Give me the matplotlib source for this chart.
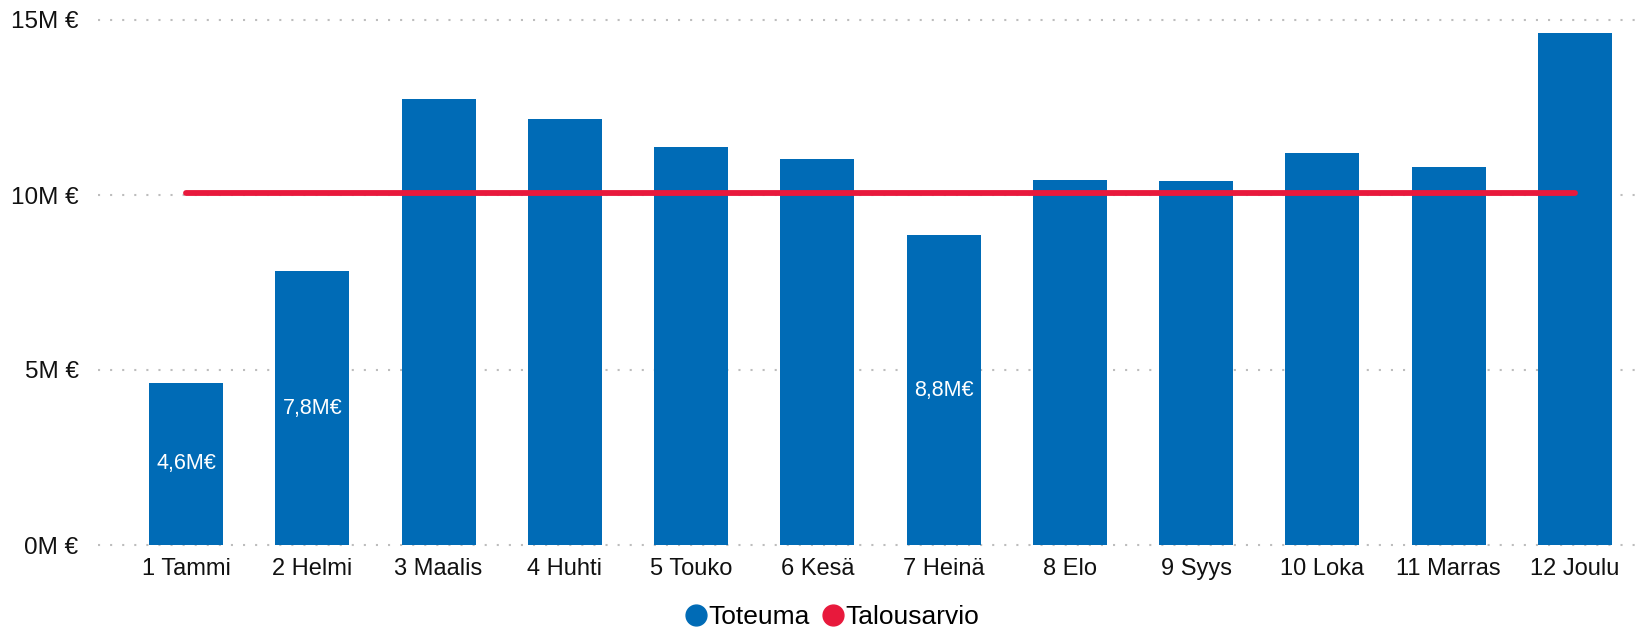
import matplotlib
matplotlib.use("Agg")
import matplotlib.pyplot as plt
from matplotlib.lines import Line2D

plt.rcParams["font.family"] = ["Liberation Sans", "DejaVu Sans"]

months = ["1 Tammi", "2 Helmi", "3 Maalis", "4 Huhti", "5 Touko", "6 Kesä",
          "7 Heinä", "8 Elo", "9 Syys", "10 Loka", "11 Marras", "12 Joulu"]
toteuma = [4.64, 7.82, 12.75, 12.18, 11.37, 11.04, 8.85, 10.44, 10.41, 11.19, 10.80, 14.63]
talousarvio = [10.07] * 12
labels = {0: "4,6M€", 1: "7,8M€", 6: "8,8M€"}
yticks = [0, 5, 10, 15]

BLUE = "#006BB6"
RED = "#E8193C"

fig = plt.figure(figsize=(16.48, 6.3), dpi=100)
ax = fig.add_axes([98 / 1648, 1 - 545 / 630, (1638 - 98) / 1648, 525 / 630])

x = list(range(len(months)))
ax.bar(x, toteuma, width=74 / 126.3, color=BLUE, zorder=2)
ax.plot(x, talousarvio, color=RED, linewidth=4.2, solid_capstyle="round", zorder=3)

# only some bars carry a value label in the original
for i, txt in labels.items():
    ax.text(i, toteuma[i] / 2, txt, ha="center", va="center", color="white",
            fontsize=15.5, zorder=4)

for v in yticks:
    ax.axhline(v, color="#BDBDBD", linewidth=1.5, linestyle=(0, (1, 4.8)),
               zorder=1, clip_on=False)

ax.set_xlim(-0.5 - 25 / 126.3, 11.5)
ax.set_ylim(0, 15)
ax.set_xticks(x)
ax.set_xticklabels(months, fontsize=17)
ax.set_yticks(yticks)
ax.set_yticklabels([f"{v}M €" for v in yticks], fontsize=17.5)
ax.tick_params(axis="both", length=0, colors="#111111")
ax.tick_params(axis="x", pad=21.5)
ax.tick_params(axis="y", pad=14)
# align month labels on baseline so "9 Syys" doesn't drop
for lbl in ax.get_xticklabels():
    lbl.set_verticalalignment("baseline")
for s in ax.spines.values():
    s.set_visible(False)

handles = [
    Line2D([], [], marker="o", linestyle="none", markersize=15, color=BLUE),
    Line2D([], [], marker="o", linestyle="none", markersize=15, color=RED),
]
fig.legend(handles, ["Toteuma", "Talousarvio"], loc="center",
           bbox_to_anchor=(0.505, 0.02), ncol=2, frameon=False, fontsize=19,
           handlelength=0.8, handletextpad=0.05, columnspacing=0.5)

fig.savefig("out.png", dpi=100)
